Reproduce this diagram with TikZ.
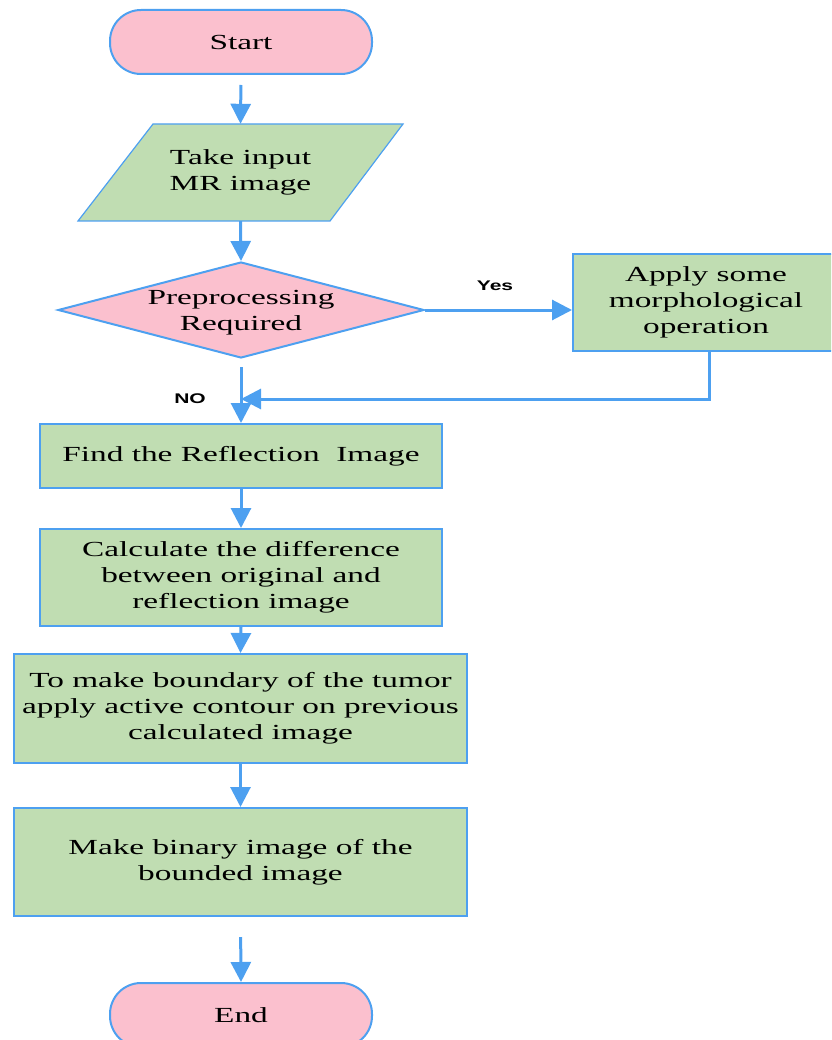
\documentclass[tikz,border=0pt]{standalone}
\usepackage{fontspec}
\setmainfont[FakeStretch=1.55]{Liberation Serif}
\newfontfamily\lblfont[FakeStretch=1.5]{Liberation Sans}
\usetikzlibrary{arrows.meta,shapes.geometric}
\definecolor{flowpink}{RGB}{251,192,206}
\definecolor{flowgreen}{RGB}{192,221,178}
\definecolor{flowblue}{RGB}{77,160,240}
\tikzset{
  txt/.style={align=center, inner sep=0pt,
    font=\fontsize{21.5}{26}\selectfont, text=black},
  base/.style={txt, draw=flowblue, line width=2pt},
  terminal/.style={base, fill=flowpink, rectangle, rounded corners=31pt,
    minimum width=262pt, minimum height=64pt},
  decision/.style={draw=flowblue, line width=2pt, fill=flowpink, diamond,
    inner sep=0pt, aspect=3.8125, minimum width=366pt, minimum height=96pt},
  process/.style={base, fill=flowgreen, rectangle},
  flow/.style={draw=flowblue, line width=3pt,
    -{Triangle[width=20pt,length=20pt]}},
  lbl/.style={font=\lblfont\bfseries\fontsize{14}{16}\selectfont, text=black}
}
\begin{document}
\begin{tikzpicture}[x=1pt,y=-1pt]
  \clip (0,0) rectangle (831,1040);
  \useasboundingbox (0,0) rectangle (831,1040);

  % start terminal
  \node[terminal] (start) at (241,42) {Start};

  % input parallelogram
  \fill[flowgreen, draw=flowblue, line width=1.2pt]
    (153,124) -- (403,124) -- (330,221) -- (78,221) -- cycle;
  \node[txt, minimum width=250pt, minimum height=97pt] (input) at (240.5,172.5)
    {Take input\\MR image};

  % decision
  \node[decision] (dec) at (241,310) {};
  \node[txt] (dectext) at (241,313) {Preprocessing\\Required};

  % process boxes
  \node[process, minimum width=266pt, minimum height=97pt] (morph) at (706,302.5)
    {Apply some\\morphological\\operation};
  \node[process, minimum width=402pt, minimum height=64pt] (find) at (241,456)
    {Find the Reflection\ \ Image};
  \node[process, minimum width=402pt, minimum height=97pt] (calc) at (241,577.5)
    {Calculate the difference\\between original and\\reflection image};
  \node[process, minimum width=453pt, minimum height=109pt] (tumor) at (240.5,708.5)
    {To make boundary of the tumor\\apply active contour on previous\\calculated image};
  \node[process, minimum width=453pt, minimum height=108pt] (binary) at (240.5,862)
    {Make binary image of the\\bounded image};

  % end terminal
  \node[terminal] (end) at (241,1015) {End};

  % junction where the branch rejoins the main line
  \coordinate (join) at (241,399);

  % connectors
  \draw[flow, shorten <=10pt] (start.south) -- (input.north);
  \draw[flow] (input.south) -- (dec.north);
  \draw[flow] (dec.east) -- (dec.east -| morph.west);
  \draw[flow, shorten <=8pt] (dec.south) -- (find.north);
  \draw[flow] (morph.south -| 709,0) |- (join);
  \draw[flow] (find.south) -- (calc.north);
  \draw[flow] (calc.south) -- (tumor.north);
  \draw[flow] (tumor.south) -- (binary.north);
  \draw[flow, shorten <=20pt] (binary.south) -- (end.north);

  % branch labels
  \node[lbl] (yes) at (495,286) {Yes};
  \node[lbl] (no) at (190,399) {NO};
\end{tikzpicture}
\end{document}
